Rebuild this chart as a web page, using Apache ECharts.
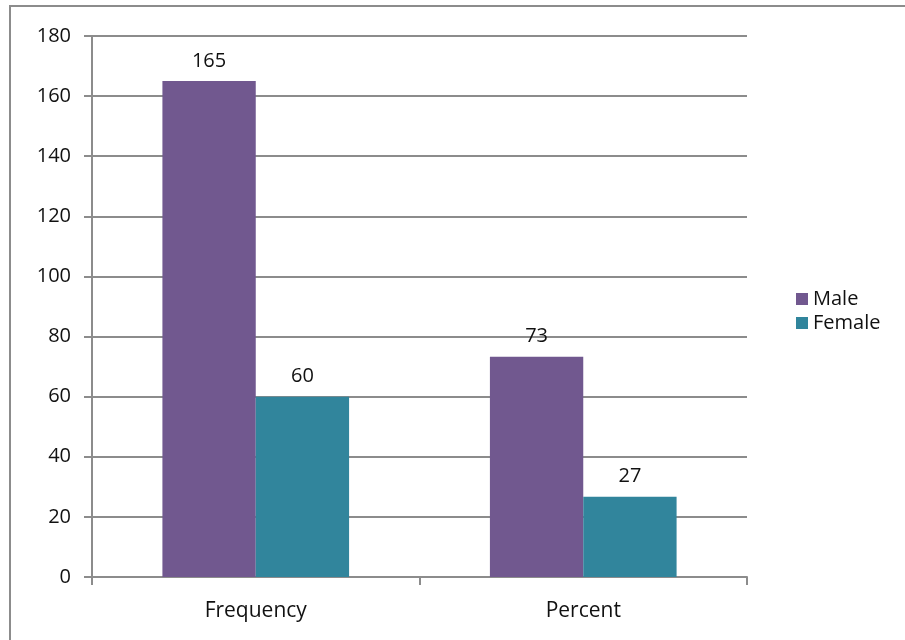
<!DOCTYPE html>
<html>
<head>
<meta charset="utf-8">
<script src="https://cdn.jsdelivr.net/npm/echarts@6/dist/echarts.min.js"></script>
<style>
  html, body { margin: 0; padding: 0; background: #fff; }
  .frame {
    position: absolute; left: 9px; top: 5px; width: 905px; height: 650px;
    border-top: 2px solid #8c8c8c; border-left: 2px solid #8c8c8c;
  }
  #main { position: absolute; left: 0; top: 0; width: 905px; height: 640px; }
</style>
</head>
<body>
<div class="frame"></div>
<div id="main"></div>
<script>
  const categories = ['Frequency', 'Percent']
  const maleValues = [165, 73.3]
  const femaleValues = [60, 26.7]
  const seriesNames = ['Male', 'Female']

  const fontFamily = '"Open Sans", "Noto Sans", sans-serif'
  const label = {
    show: true,
    position: 'top',
    distance: 10,
    color: '#111',
    fontSize: 20,
    fontFamily: fontFamily,
    formatter: p => Math.round(p.value)
  }

  const option = {
    animation: false,
    grid: { left: 92, right: 158, top: 36, bottom: 63 },
    legend: {
      orient: 'vertical',
      left: 791,
      top: 284,
      icon: 'rect',
      itemWidth: 12,
      itemHeight: 12,
      itemGap: 4,
      textStyle: { fontSize: 20, fontFamily: fontFamily, color: '#111' },
      data: seriesNames
    },
    xAxis: {
      type: 'category',
      data: categories,
      axisLine: { lineStyle: { color: '#8c8c8c', width: 2 } },
      axisTick: { show: true, length: 8, lineStyle: { color: '#8c8c8c', width: 2 } },
      axisLabel: { fontSize: 21, fontFamily: fontFamily, color: '#111', margin: 24 }
    },
    yAxis: {
      type: 'value',
      min: 0,
      max: 180,
      interval: 20,
      axisLine: { show: true, lineStyle: { color: '#8c8c8c', width: 2 } },
      axisTick: { show: true, length: 8, lineStyle: { color: '#8c8c8c', width: 2 } },
      splitLine: { lineStyle: { color: '#8c8c8c', width: 2 } },
      axisLabel: { fontSize: 20, fontFamily: fontFamily, color: '#111', margin: 21 }
    },
    series: [
      {
        name: seriesNames[0],
        type: 'bar',
        data: maleValues,
        barGap: '0%',
        barCategoryGap: '43%',
        itemStyle: { color: '#71588f' },
        label: label
      },
      {
        name: seriesNames[1],
        type: 'bar',
        data: femaleValues,
        itemStyle: { color: '#31859c' },
        label: label
      }
    ]
  }

  const myChart = echarts.init(document.getElementById('main'))
  myChart.setOption(option)
</script>
</body>
</html>
